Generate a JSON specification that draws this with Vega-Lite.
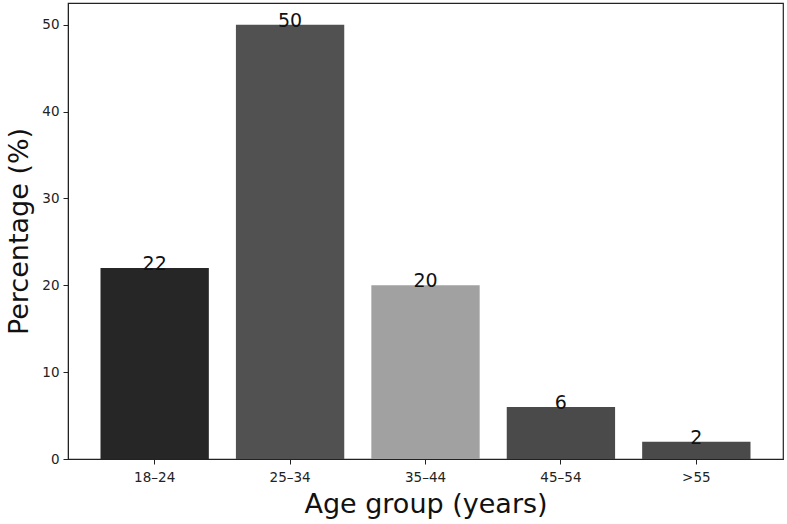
{
  "$schema": "https://vega.github.io/schema/vega-lite/v6.json",
  "width": 715,
  "height": 456,
  "autosize": "none",
  "padding": {"left": 68, "top": 3, "right": 4, "bottom": 65},
  "background": "white",
  "config": {
    "font": "DejaVu Sans",
    "view": {"stroke": "#222222", "strokeWidth": 1.2},
    "axis": {"grid": false, "domainColor": "#222222", "tickColor": "#222222", "labelColor": "#222222", "titleColor": "#111111", "labelFont": "DejaVu Sans", "titleFont": "DejaVu Sans", "titleFontWeight": "normal"}
  },
  "data": {"values": [
    {"age": "18–24", "pct": 22, "color": "#262626"},
    {"age": "25–34", "pct": 50, "color": "#515151"},
    {"age": "35–44", "pct": 20, "color": "#a1a1a1"},
    {"age": "45–54", "pct": 6, "color": "#4a4a4a"},
    {"age": ">55", "pct": 2, "color": "#4a4a4a"}
  ]},
  "encoding": {
    "x": {"field": "age", "type": "nominal", "sort": null,
      "scale": {"paddingInner": 0.2, "paddingOuter": 0.24},
      "axis": {"title": "Age group (years)", "labelAngle": 0, "labelFontSize": 13.5, "labelPadding": 6, "tickSize": 5, "titleFontSize": 27, "titlePadding": 8}},
    "y": {"field": "pct", "type": "quantitative",
      "scale": {"domain": [0, 52.5], "nice": false},
      "axis": {"title": "Percentage (%)", "values": [0, 10, 20, 30, 40, 50], "labelFontSize": 13.5, "labelPadding": 4, "tickSize": 5, "titleFontSize": 27, "titlePadding": 8}}
  },
  "layer": [
    {"mark": {"type": "bar"}, "encoding": {"color": {"field": "color", "type": "nominal", "scale": null}}},
    {"mark": {"type": "text", "baseline": "alphabetic", "align": "center", "fontSize": 19, "dy": 2, "color": "#111111"},
     "encoding": {"text": {"field": "pct", "type": "quantitative"}}}
  ]
}
